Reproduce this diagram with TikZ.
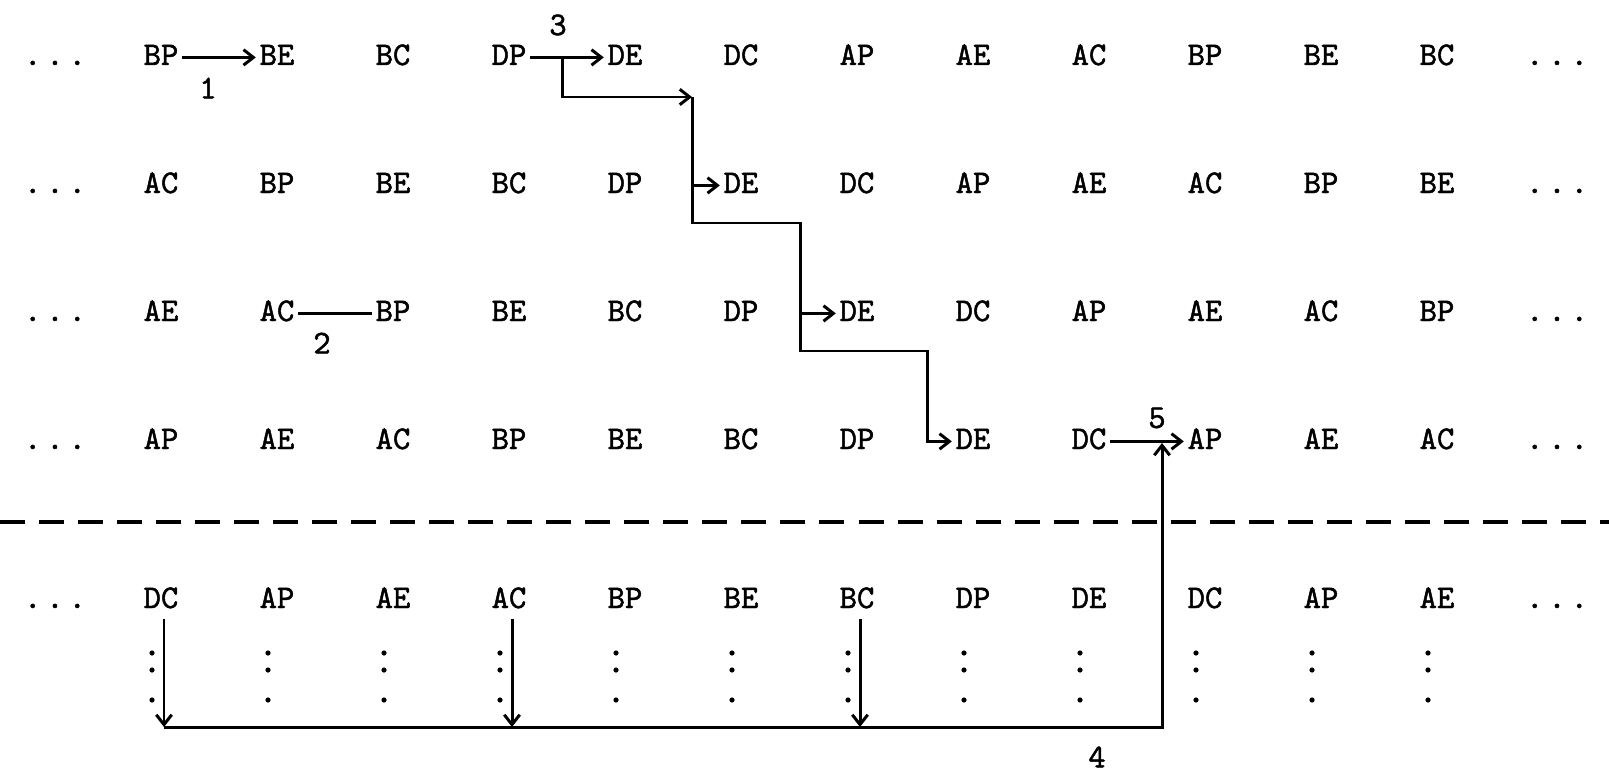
\documentclass[tikz,border=0pt]{standalone}
\usepackage{fontspec}
\newfontfamily\typewriter{lmmono10-regular.otf}[FakeBold=1.4]
\usetikzlibrary{arrows.meta}
\begin{document}
\begin{tikzpicture}[x=0.01cm,y=-0.01cm,
  cell/.style={font=\fontsize{9.4}{11}\typewriter, inner xsep=0.9pt, inner ysep=0pt, anchor=base},
  num/.style={font=\fontsize{9.4}{11}\typewriter, inner sep=0pt},
  link/.style={line width=0.85pt},
  arr/.style={link, -{Straight Barb[length=2.8pt,width=4.4pt,line width=0.85pt]}},
  sep/.style={line width=1pt, dash pattern=on 0.25cm off 0.14cm},
]
\useasboundingbox (0,0) rectangle (1609,770);

% rows of the cyclic sequence
\foreach \r/\y/\labs in {
  1/65/{BP,BE,BC,DP,DE,DC,AP,AE,AC,BP,BE,BC},
  2/193/{AC,BP,BE,BC,DP,DE,DC,AP,AE,AC,BP,BE},
  3/321/{AE,AC,BP,BE,BC,DP,DE,DC,AP,AE,AC,BP},
  4/449/{AP,AE,AC,BP,BE,BC,DP,DE,DC,AP,AE,AC},
  5/608/{DC,AP,AE,AC,BP,BE,BC,DP,DE,DC,AP,AE}} {
  \node[cell] (l\r) at (55,\y) {.\hspace{1.4pt}.\hspace{1.4pt}.};
  \node[cell] (e\r) at (1557,\y) {.\hspace{1.4pt}.\hspace{1.4pt}.};
  \foreach \lab [count=\c] in \labs {
    \node[cell] (r\r-\c) at ({161+(\c-1)*116},\y) {\lab};
  }
}

% vertical ellipses under the last row
\foreach \c in {1,...,12} {
  \fill ({152+(\c-1)*116},653) circle (0.026cm);
  \fill ({152+(\c-1)*116},670) circle (0.026cm);
  \fill ({152+(\c-1)*116},700) circle (0.026cm);
}

% separator
\coordinate (dl) at (0,522);
\coordinate (dr) at (1609,522);
\draw[sep] (dl) -- (dr);

% numbered labels
\node[num] (n1) at (208,88) {1};
\node[num] (n2) at (322,343) {2};
\node[num] (n3) at (558,25) {3};
\node[num] (n4) at (1097,757) {4};
\node[num] (n5) at (1157,418) {5};

% connectors 1 and 2
\draw[arr] (r1-1.mid east) -- (r1-2.mid west);
\draw[link] (r3-2.mid east) -- (r3-3.mid west);

% connector 3 and its staircase
\draw[arr] (r1-4.mid east) -- (r1-5.mid west);
\coordinate (k0) at (562,58);
\coordinate (k1) at (692,97);
\coordinate (k3) at (800,223);
\coordinate (k5) at (927,351);
\draw[arr] (k0) |- (k1);
\draw[arr] (k1) |- (k3) |- (k5) |- (r4-8.mid west);
\draw[arr] (k1 |- r2-6.mid west) -- (r2-6.mid west);
\draw[arr] (k3 |- r3-7.mid west) -- (r3-7.mid west);

% connector 5
\draw[arr] (r4-9.mid east) -- (r4-10.mid west);

% connector 4: collecting line below the last row
\coordinate (g1) at (164,727);
\coordinate (g4) at (512,727);
\coordinate (g7) at (860,727);
\coordinate (gc) at (1162,727);
\coordinate (t5) at (1162,443);
\draw[arr] ([shift={(3,10)}]r5-1.south) -- (g1);
\draw[arr] ([shift={(3,10)}]r5-4.south) -- (g4);
\draw[arr] ([shift={(3,10)}]r5-7.south) -- (g7);
\draw[arr] (g1) -- (gc) -- (t5);
\end{tikzpicture}
\end{document}
